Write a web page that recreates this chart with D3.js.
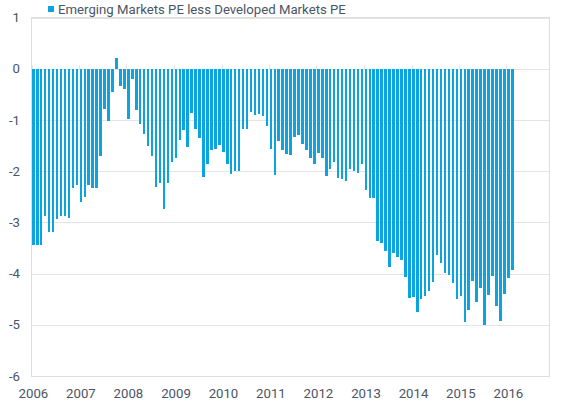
<!DOCTYPE html>
<html>
<head>
<meta charset="utf-8">
<script src="https://cdn.jsdelivr.net/npm/d3@7"></script>
<style>
  body { margin: 0; background: #fff; }
  .grid { stroke: #e4e4e4; stroke-width: 1; shape-rendering: crispEdges; }
  .frame { fill: none; stroke: #dedede; stroke-width: 1; shape-rendering: crispEdges; }
  .bar { fill: #0ba3e0; shape-rendering: crispEdges; }
  .label { font-family: Roboto, 'Noto Sans', sans-serif; font-size: 13.2px; fill: #4b5566; }
</style>
</head>
<body>
<script>
// Series data (monthly, Jan 2006 - Feb 2016)
const seriesName = 'Emerging Markets PE less Developed Markets PE';
const years = ['2006', '2007', '2008', '2009', '2010', '2011', '2012', '2013', '2014', '2015', '2016'];
const values2006 = [-3.44, -3.44, -3.45, -2.88, -3.18, -3.19, -2.93, -2.87, -2.87, -2.91, -2.33, -2.28];
const values2007 = [-2.60, -2.50, -2.28, -2.33, -2.33, -1.71, -0.79, -1.03, -0.46, 0.21, -0.34, -0.40];
const values2008 = [-0.98, -0.21, -0.80, -1.07, -1.27, -1.50, -1.71, -2.31, -2.23, -2.73, -2.23, -1.82];
const values2009 = [-1.74, -1.40, -1.19, -1.53, -0.86, -1.18, -1.36, -2.11, -1.86, -1.58, -1.56, -1.49];
const values2010 = [-1.62, -1.87, -2.05, -2.00, -2.00, -1.18, -1.18, -0.85, -0.91, -0.88, -0.93, -1.12];
const values2011 = [-1.57, -2.08, -1.41, -1.59, -1.67, -1.68, -1.34, -1.29, -1.47, -1.59, -1.75, -1.87];
const values2012 = [-1.64, -1.74, -2.09, -1.96, -1.83, -2.13, -2.15, -2.20, -1.95, -1.99, -2.04, -1.87];
const values2013 = [-2.37, -2.52, -2.52, -3.36, -3.40, -3.56, -3.88, -3.60, -3.68, -3.73, -4.07, -4.47];
const values2014 = [-4.45, -4.75, -4.49, -4.44, -4.35, -4.17, -3.64, -3.79, -3.98, -4.03, -4.19, -4.49];
const values2015 = [-4.44, -4.94, -4.71, -4.14, -4.56, -4.29, -5.00, -4.42, -4.05, -4.64, -4.92, -4.40];
const values2016 = [-4.08, -3.93];
const yTicks = [1, 0, -1, -2, -3, -4, -5, -6];

const values = [].concat(values2006, values2007, values2008, values2009, values2010,
  values2011, values2012, values2013, values2014, values2015, values2016);
const barData = values.map((v, i) => ({ month: new Date(2006, i, 1), value: v }));

// SVG Canvas
const width = 567;
const height = 412;
const plot = { left: 31.5, right: 549, top: 17.5, bottom: 376 };

const x = d3.scaleTime()
  .domain([new Date(2006, 0, 1), new Date(2016, 10, 23)])
  .range([plot.left, plot.right]);

const y = d3.scaleLinear()
  .domain([yTicks[yTicks.length - 1], yTicks[0]])
  .range([plot.bottom, plot.top]);

const svg = d3.select('body')
  .append('svg')
    .attr('width', width)
    .attr('height', height);

// Gridlines
svg.selectAll('line.grid')
    .data(yTicks)
  .enter().append('line')
    .attr('class', 'grid')
    .attr('x1', plot.left)
    .attr('x2', plot.right)
    .attr('y1', (d) => Math.round(y(d)) + 0.5)
    .attr('y2', (d) => Math.round(y(d)) + 0.5);

svg.append('rect')
    .attr('class', 'frame')
    .attr('x', plot.left)
    .attr('y', plot.top)
    .attr('width', plot.right - plot.left)
    .attr('height', plot.bottom - plot.top);

// Year ticks on the zero line
svg.selectAll('line.tick')
    .data(years)
  .enter().append('line')
    .attr('class', 'grid')
    .attr('x1', (d) => Math.round(x(new Date(+d, 0, 1))) + 0.5)
    .attr('x2', (d) => Math.round(x(new Date(+d, 0, 1))) + 0.5)
    .attr('y1', y(0))
    .attr('y2', y(0) - 4);

// Bar creation
const barWidth = 2.5;
svg.selectAll('rect.bar')
    .data(barData)
  .enter().append('rect')
    .attr('class', 'bar')
    .attr('x', (d) => (x(d.month) + x(d3.timeMonth.offset(d.month, 1))) / 2 - barWidth / 2)
    .attr('y', (d) => y(Math.max(0, d.value)))
    .attr('width', barWidth)
    .attr('height', (d) => Math.abs(y(d.value) - y(0)));

// Y axis labels
svg.selectAll('text.ylab')
    .data(yTicks)
  .enter().append('text')
    .attr('class', 'label')
    .attr('x', 20)
    .attr('y', (d) => y(d))
    .attr('dy', '0.35em')
    .attr('text-anchor', 'end')
    .text((d) => d);

// X axis labels
svg.selectAll('text.xlab')
    .data(years)
  .enter().append('text')
    .attr('class', 'label')
    .attr('x', (d) => x(new Date(+d, 0, 16)))
    .attr('y', 398)
    .attr('text-anchor', 'middle')
    .text((d) => d);

// Legend
svg.append('rect')
    .attr('class', 'bar')
    .attr('x', 48)
    .attr('y', 5.5)
    .attr('width', 6)
    .attr('height', 6);

svg.append('text')
    .attr('class', 'label')
    .attr('x', 58)
    .attr('y', 13.5)
    .text(seriesName);
</script>
</body>
</html>
